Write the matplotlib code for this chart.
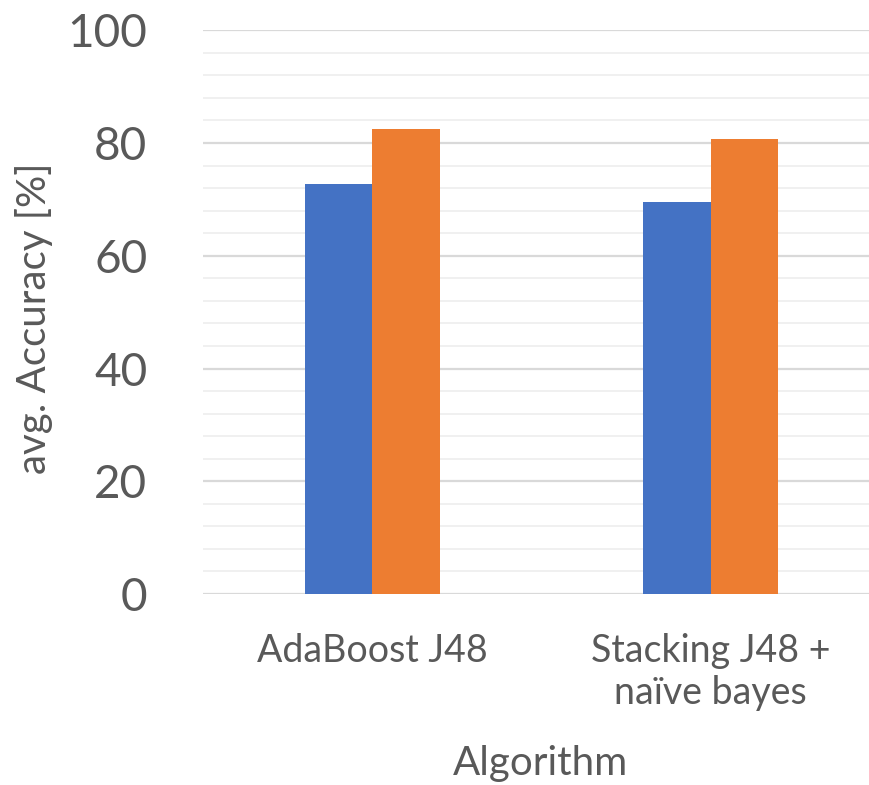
import matplotlib
matplotlib.use("Agg")
import matplotlib.pyplot as plt
import numpy as np
from matplotlib.ticker import MultipleLocator

# Average accuracy per algorithm, two series
categories = ["AdaBoost J48", "Stacking J48 +\nnaïve bayes"]
series_a = [72.8, 69.5]
series_b = [82.5, 80.8]
y_ticks = [0, 20, 40, 60, 80, 100]

plt.rcParams['font.family'] = ['Lato', 'DejaVu Sans']
text_color = "#595959"

fig = plt.figure(figsize=(8.7, 7.85), dpi=100)
ax = fig.add_axes([203 / 870, 1 - 594 / 785, (880 - 203) / 870, (594 - 30.3) / 785])

x = np.arange(len(categories))
w = 0.2
ax.bar(x - w / 2, series_a, width=w, color="#4472C4", zorder=3)
ax.bar(x + w / 2, series_b, width=w, color="#ED7D31", zorder=3)

ax.set_xlim(-0.5, len(categories) - 0.5)
ax.set_ylim(0, 100)
ax.set_yticks(y_ticks)
ax.yaxis.set_minor_locator(MultipleLocator(4))
ax.grid(axis="y", which="major", color="#d9d9d9", linewidth=1.6, zorder=0)
ax.grid(axis="y", which="minor", color="#f0f0f0", linewidth=1.4, zorder=0)
ax.set_axisbelow(True)

for s in ax.spines.values():
    s.set_visible(False)

ax.tick_params(axis="y", which="both", length=0, pad=40, labelsize=33, labelcolor=text_color)
ax.tick_params(axis="x", length=0, pad=28, labelsize=27, labelcolor=text_color)
ax.set_xticks(x)
ax.set_xticklabels(categories, linespacing=1.2, va="top")

fig.text(34 / 870, 1 - 318 / 785, "avg. Accuracy [%]", fontsize=29, color=text_color,
         rotation=90, ha="center", va="center")
fig.text(541 / 870, 1 - 764 / 785, "Algorithm", fontsize=29, color=text_color,
         ha="center", va="center")

fig.savefig("out.png", dpi=100)
